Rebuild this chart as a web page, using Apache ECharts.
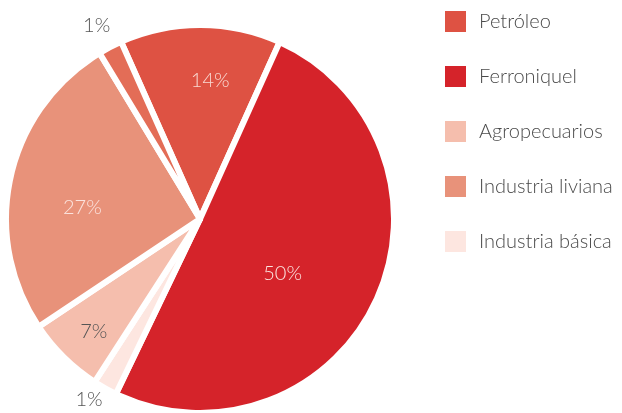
<!DOCTYPE html>
<html>
<head>
<meta charset="utf-8">
<script src="https://cdn.jsdelivr.net/npm/echarts@6/dist/echarts.min.js"></script>
<style>
  html, body { margin: 0; padding: 0; background: #fff; }
  #main { width: 622px; height: 413px; }
</style>
</head>
<body>
<div id="main"></div>
<script>
var myChart = echarts.init(document.getElementById("main"));

// sectores y participación (orden horario desde arriba)
const sectores = ["Petróleo", "Ferroniquel", "Industria básica", "Agropecuarios", "Industria liviana", "Otros"];
const valores = [13.4, 50.4, 2.0, 6.5, 25.7, 2.0];
const etiquetas = ["14%", "50%", "1%", "7%", "27%", "1%"];
const leyenda = ["Petróleo", "Ferroniquel", "Agropecuarios", "Industria liviana", "Industria básica"];

const colores = ["#de5243", "#d5232a", "#fde6e0", "#f5bead", "#e8927a", "#e36d57"];
const colorEtiqueta = ["#f9d9d2", "#fbe3de", "#555555", "#555555", "#fbe3de", "#555555"];
// desplazamiento de cada etiqueta respecto a su posición 'inside'
const desplaza = [[10, -38], [-8, 12], [-62, 93], [-36, 41], [-20, 10], [-57, -105]];

const FONT = "Lato";

option = {
  animation: false,
  color: colores,
  legend: {
    orient: "vertical",
    left: 443,
    top: 9,
    padding: 0,
    icon: "rect",
    itemWidth: 23,
    itemHeight: 23,
    itemGap: 30,
    data: leyenda,
    selectedMode: false,
    textStyle: {
      fontFamily: FONT,
      fontWeight: 300,
      fontSize: 20,
      color: "#4a4a4a",
      padding: [0, 0, 0, 7],
    },
  },
  series: [
    {
      type: "pie",
      center: [200, 219],
      radius: [0, 194],
      startAngle: 114,
      clockwise: true,
      itemStyle: {
        borderColor: "#fff",
        borderWidth: 6,
      },
      label: {
        position: "inside",
        fontFamily: FONT,
        fontWeight: 300,
        fontSize: 20,
      },
      labelLine: { show: false },
      emphasis: { disabled: true },
      labelLayout: function (params) {
        const d = desplaza[params.dataIndex];
        return { dx: d[0], dy: d[1] };
      },
      data: sectores.map((s, i) => ({
        name: s,
        value: valores[i],
        label: { formatter: etiquetas[i], color: colorEtiqueta[i] },
      })),
    },
  ],
};
myChart.setOption(option);
</script>
</body>
</html>
